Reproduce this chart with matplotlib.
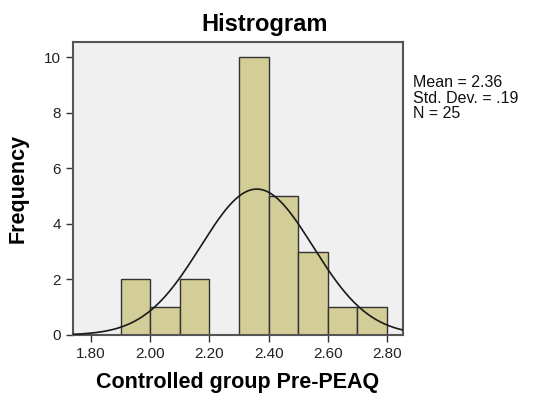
import numpy as np
import matplotlib.pyplot as plt

plt.rcParams['font.family'] = ['Liberation Sans', 'DejaVu Sans']

# Histogram data (bin edges and counts)
bin_edges = [1.90, 2.00, 2.10, 2.20, 2.30, 2.40, 2.50, 2.60, 2.70, 2.80]
counts = [2, 1, 2, 0, 10, 5, 3, 1, 1]
mean = 2.36
std = 0.19
n = 25
xticks = [1.80, 2.00, 2.20, 2.40, 2.60, 2.80]
yticks = [0, 2, 4, 6, 8, 10]

fig = plt.figure(figsize=(5.34, 4.03), dpi=100)
ax = fig.add_axes([73/534, 1 - 335/403, 330/534, 293/403])
ax.set_facecolor('#F0F0F0')

lefts = bin_edges[:-1]
widths = np.diff(bin_edges)
ax.bar(lefts, counts, width=widths, align='edge', color='#D3CE97',
       edgecolor='#333333', linewidth=1.0, zorder=2)

# Normal curve
bw = 0.1
xs = np.linspace(1.739, 2.854, 300)
ys = n * bw / (std * np.sqrt(2 * np.pi)) * np.exp(-0.5 * ((xs - mean) / std) ** 2)
ax.plot(xs, ys, color='#1a1a1a', linewidth=1.2, zorder=3)

ax.set_xlim(1.739, 2.854)
ax.set_ylim(0, 10.54)
ax.set_xticks(xticks)
ax.set_xticklabels([f'{t:.2f}' for t in xticks])
ax.set_yticks(yticks)
ax.tick_params(direction='out', length=5, width=1, colors='#333333',
               labelsize=11, labelcolor='#222222')
for s in ax.spines.values():
    s.set_color('#555555')
    s.set_linewidth(1.5)

fig.text(265/534, 1 - 25/403, 'Histrogram', fontsize=17, fontweight='bold',
         ha='center', va='center')
ax.set_ylabel('Frequency', fontsize=15.5, fontweight='bold', labelpad=11)
ax.set_xlabel('Controlled group Pre-PEAQ', fontsize=15.5, fontweight='bold', labelpad=8)

fig.text(413/534, 1 - 75/403, 'Mean = 2.36\nStd. Dev. = .19\nN = 25',
         fontsize=11.5, va='top', ha='left', linespacing=1.05, color='#111111')

fig.savefig('out.png', dpi=100)
